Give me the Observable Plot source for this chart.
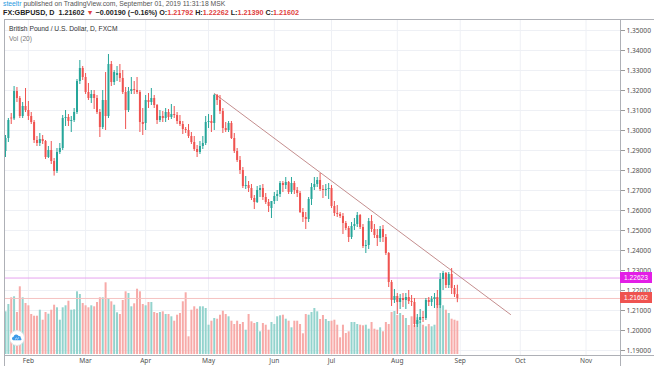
<!DOCTYPE html>
<html><head><meta charset="utf-8">
<script src="https://cdn.jsdelivr.net/npm/d3@7"></script>
<script src="https://cdn.jsdelivr.net/npm/@observablehq/plot@0.6"></script>
<style>
html,body{margin:0;padding:0;background:#fff;}
#root{position:relative;width:654px;height:366px;overflow:hidden;font-family:"Liberation Sans",Arial,sans-serif;background:#fff;}
.layer{position:absolute;left:0;}
.layer svg{display:block;}
.txt{position:absolute;white-space:nowrap;line-height:8px;}
.ln{position:absolute;background:#aeb0b6;}
.box{position:absolute;left:620px;width:32px;height:11px;line-height:11px;color:#fff;font-size:6.6px;text-align:center;}
</style></head><body><div id="root"></div>
<script>
// ---- data (FX:GBPUSD daily) ----
const startDate = "2019-01-22";
const opens = [1.2895,1.2960,1.3062,1.3058,1.3195,1.3160,1.3070,1.3120,1.3100,1.3070,
1.3040,1.2950,1.2935,1.2955,1.2945,1.2865,1.2900,1.2845,1.2795,1.2890,
1.2910,1.3060,1.3065,1.3045,1.3050,1.3090,1.3245,1.3310,1.3265,1.3190,
1.3160,1.3180,1.3160,1.3090,1.3015,1.3150,1.3070,1.3330,1.3240,1.3275,
1.3285,1.3260,1.3190,1.3100,1.3195,1.3205,1.3200,1.3190,1.3040,1.3035,
1.3150,1.3140,1.3160,1.3125,1.3050,1.3070,1.3060,1.3090,1.3065,1.3080,
1.3075,1.3045,1.3030,1.3005,1.3000,1.2970,1.2940,1.2905,1.2890,1.2920,
1.2935,1.3040,1.3045,1.3035,1.3175,1.3150,1.3095,1.3010,1.3000,1.3035,
1.2960,1.2895,1.2850,1.2800,1.2720,1.2725,1.2710,1.2660,1.2640,1.2700,
1.2710,1.2665,1.2640,1.2610,1.2645,1.2670,1.2680,1.2735,1.2725,1.2740,
1.2690,1.2735,1.2700,1.2685,1.2590,1.2565,1.2555,1.2655,1.2715,1.2730,
1.2750,1.2705,1.2700,1.2705,1.2710,1.2620,1.2585,1.2580,1.2570,1.2535,
1.2510,1.2465,1.2520,1.2530,1.2575,1.2515,1.2420,1.2425,1.2545,1.2505,
1.2475,1.2460,1.2505,1.2465,1.2385,1.2240,1.2150,1.2170,1.2140,1.2160,
1.2150,1.2165,1.2145,1.2140,1.2030,1.2050,1.2065,1.2060,1.2150,1.2140,
1.2155,1.2165,1.2125,1.2255,1.2285,1.2225,1.2280,1.2210,1.21792];
const highs = [1.2975,1.3060,1.3085,1.3220,1.3215,1.3170,1.3140,1.3210,1.3145,1.3090,
1.3050,1.2970,1.2985,1.2975,1.2950,1.2920,1.2945,1.2860,1.2910,1.2935,
1.3075,1.3100,1.3080,1.3070,1.3110,1.3255,1.3350,1.3320,1.3285,1.3235,
1.3200,1.3200,1.3175,1.3105,1.3200,1.3290,1.3380,1.3345,1.3300,1.3320,
1.3330,1.3300,1.3215,1.3215,1.3265,1.3245,1.3265,1.3200,1.3110,1.3175,
1.3185,1.3210,1.3175,1.3130,1.3100,1.3095,1.3110,1.3105,1.3130,1.3120,
1.3090,1.3075,1.3045,1.3015,1.3030,1.2990,1.2970,1.2925,1.2945,1.2970,
1.3070,1.3080,1.3075,1.3180,1.3180,1.3175,1.3110,1.3040,1.3045,1.3045,
1.2985,1.2910,1.2870,1.2815,1.2770,1.2745,1.2730,1.2675,1.2720,1.2725,
1.2730,1.2685,1.2655,1.2645,1.2690,1.2700,1.2745,1.2745,1.2765,1.2745,
1.2765,1.2745,1.2715,1.2695,1.2610,1.2590,1.2665,1.2735,1.2765,1.2765,
1.2785,1.2725,1.2730,1.2735,1.2725,1.2645,1.2625,1.2590,1.2585,1.2545,
1.2520,1.2540,1.2560,1.2590,1.2580,1.2530,1.2450,1.2560,1.2575,1.2530,
1.2505,1.2520,1.2525,1.2480,1.2390,1.2250,1.2205,1.2185,1.2180,1.2185,
1.2185,1.2200,1.2175,1.2160,1.2080,1.2105,1.2095,1.2160,1.2165,1.2170,
1.2185,1.2200,1.2285,1.2295,1.2290,1.2290,1.2310,1.2225,1.22262];
const lows = [1.2865,1.2940,1.3030,1.3050,1.3140,1.3060,1.3060,1.3090,1.3050,1.3030,
1.2935,1.2920,1.2920,1.2930,1.2855,1.2860,1.2830,1.2772,1.2785,1.2880,
1.2900,1.3020,1.3020,1.2990,1.3040,1.3080,1.3230,1.3250,1.3180,1.3150,
1.3135,1.3105,1.3080,1.2965,1.3005,1.3000,1.3060,1.3220,1.3225,1.3245,
1.3240,1.3180,1.3005,1.3090,1.3180,1.3180,1.3180,1.2990,1.2975,1.3000,
1.3110,1.3125,1.3110,1.3030,1.3040,1.3040,1.3040,1.3050,1.3055,1.3060,
1.3030,1.3020,1.2980,1.2985,1.2960,1.2930,1.2895,1.2865,1.2880,1.2905,
1.2925,1.3010,1.2990,1.3000,1.3125,1.3080,1.2985,1.2990,1.2990,1.2955,
1.2885,1.2840,1.2780,1.2710,1.2705,1.2690,1.2650,1.2605,1.2635,1.2665,
1.2650,1.2630,1.2590,1.2560,1.2630,1.2645,1.2665,1.2690,1.2705,1.2680,
1.2680,1.2680,1.2665,1.2585,1.2540,1.2505,1.2540,1.2625,1.2700,1.2715,
1.2695,1.2660,1.2670,1.2655,1.2610,1.2570,1.2565,1.2560,1.2480,1.2500,
1.2440,1.2455,1.2500,1.2515,1.2505,1.2410,1.2385,1.2405,1.2490,1.2460,
1.2420,1.2440,1.2440,1.2375,1.2215,1.2120,1.2135,1.2080,1.2105,1.2115,
1.2105,1.2130,1.2120,1.2015,1.2015,1.2035,1.2040,1.2050,1.2120,1.2120,
1.2110,1.2110,1.2110,1.2200,1.2210,1.2210,1.2180,1.2165,1.21390];
const closes = [1.2960,1.3050,1.3058,1.3195,1.3160,1.3070,1.3120,1.3100,1.3070,1.3040,
1.2950,1.2935,1.2955,1.2945,1.2865,1.2900,1.2845,1.2795,1.2890,1.2910,
1.3060,1.3065,1.3045,1.3050,1.3090,1.3245,1.3310,1.3265,1.3190,1.3160,
1.3180,1.3160,1.3090,1.3015,1.3150,1.3070,1.3330,1.3240,1.3290,1.3285,
1.3260,1.3190,1.3100,1.3195,1.3205,1.3200,1.3190,1.3040,1.3030,1.3150,
1.3140,1.3160,1.3125,1.3050,1.3070,1.3060,1.3090,1.3065,1.3080,1.3075,
1.3045,1.3030,1.3005,1.3000,1.2970,1.2940,1.2905,1.2890,1.2920,1.2935,
1.3040,1.3045,1.3035,1.3175,1.3150,1.3095,1.3010,1.3000,1.3035,1.2960,
1.2895,1.2850,1.2800,1.2720,1.2725,1.2710,1.2660,1.2640,1.2700,1.2710,
1.2665,1.2640,1.2620,1.2645,1.2670,1.2680,1.2735,1.2725,1.2740,1.2690,
1.2735,1.2700,1.2685,1.2590,1.2565,1.2555,1.2655,1.2715,1.2730,1.2750,
1.2705,1.2700,1.2705,1.2710,1.2620,1.2585,1.2580,1.2570,1.2535,1.2510,
1.2465,1.2520,1.2530,1.2575,1.2515,1.2420,1.2425,1.2545,1.2505,1.2475,
1.2460,1.2505,1.2465,1.2385,1.2240,1.2150,1.2170,1.2140,1.2160,1.2150,
1.2165,1.2145,1.2140,1.2030,1.2050,1.2065,1.2060,1.2150,1.2140,1.2155,
1.2165,1.2125,1.2255,1.2285,1.2225,1.2280,1.2210,1.21792,1.21602];
const volumes = [42.7,50,56.7,57.7,42,67.7,56.7,51,48.7,40,
38.3,38.3,44.3,34.3,42,40.3,44.3,49.3,46.7,34.3,
46.7,48.7,53.3,44.3,44.7,62.7,60,51,48.7,46.7,
48.7,47.7,52,56.7,56.7,71.7,56,52.7,49.3,41.7,
40,54,62.7,61,47.7,50.7,65.3,62.7,50,48.7,
52,52,42,41,42,42.7,40,40,37.7,33.3,
39.3,41,52.7,61.7,17.7,44.3,47.7,45.3,47.7,47.7,
46,29.3,33.3,36,35.3,39.3,43.3,40,37.7,33.3,
30,33.3,30,32,24.3,40,32.7,31,32,22.7,
31,29.3,24.3,32,30,37.7,38.7,39.3,35.3,33.3,
26.7,33.3,33.3,30,20.7,40,39.3,42,46,42.7,
35,39,35,33,33.3,34.3,29.3,16.7,29.3,21,
22.7,32,32,30,29.3,28.7,29.3,25.3,32,25.3,
24.3,26.7,22.7,32,30,42,43,39,41,39,
36,29,37.7,29,36.7,32.7,29.3,27.7,30,27.7,
29.3,50,62.7,48.7,44.3,41,35.3,34.3,33.3];
const priceTicks = [1.19,1.20,1.21,1.22,1.23,1.24,1.25,1.26,1.27,1.28,1.29,1.30,1.31,1.32,1.33,1.34,1.35];
const monthNames = ["Jan","Feb","Mar","Apr","May","Jun","Jul","Aug","Sep","Oct","Nov","Dec"];
const trendIdx = [73, 176.6];
const trendPrice = [1.3185, 1.2080];
const levelPrice = 1.22623;

// ---- derived ----
const n = closes.length;
const dates = [];
{ let d = new Date(startDate + "T00:00:00Z");
  while (dates.length < 216) { const wd = d.getUTCDay(); if (wd !== 0 && wd !== 6) dates.push(new Date(d)); d.setUTCDate(d.getUTCDate() + 1); } }
const monthIdx = dates.map((d, i) => i).filter(i => i > 0 && dates[i].getUTCMonth() !== dates[i - 1].getUTCMonth());
const bars = closes.map((c, i) => ({i, o: opens[i], h: highs[i], l: lows[i], c, v: volumes[i], up: c >= opens[i]}));
const upBars = bars.filter(d => d.up), dnBars = bars.filter(d => !d.up);
const lastPrice = closes[n - 1];
const trend = trendIdx.map((x, k) => ({x, y: trendPrice[k]}));

const teal = "#26a69a", red = "#ef5350", tealV = "#93d3cd", redV = "#f7aaa8";
const W = 654, H = 347;
const xDomain = [-0.35, 215.05];
const common = {width: W, height: H, marginLeft: 4, marginRight: 34, marginTop: 0, marginBottom: 11,
  x: {type: "linear", domain: xDomain}, y: {domain: [1.1875, 1.3555]},
  style: {background: "transparent", overflow: "visible"}};

const root = document.getElementById("root");
function addLayer(el, top) { const d = document.createElement("div"); d.className = "layer"; d.style.top = top + "px"; d.appendChild(el); root.appendChild(d); }

// grid layer
addLayer(Plot.plot({...common, x: {...common.x, axis: null}, y: {...common.y, axis: null}, marks: [
  Plot.ruleX(monthIdx, {x: d => d, stroke: "#eef0f5"}),
  Plot.ruleY(priceTicks, {stroke: "#eef0f5"})
]}), 19);

// volume layer
addLayer(Plot.plot({width: W, height: 76, marginLeft: 4, marginRight: 34, marginTop: 0, marginBottom: 1,
  x: {type: "linear", domain: xDomain, axis: null}, y: {domain: [0, 75], axis: null},
  style: {background: "transparent"}, marks: [
  Plot.ruleX(upBars, {x: "i", y1: 0, y2: "v", stroke: tealV, strokeWidth: 2}),
  Plot.ruleX(dnBars, {x: "i", y1: 0, y2: "v", stroke: redV, strokeWidth: 2})
]}), 279);

// price layer
const pricePlot = Plot.plot({...common, marks: [
  Plot.ruleY([levelPrice], {stroke: "#e6a3ef", strokeWidth: 1}),
  Plot.ruleY([lastPrice], {stroke: "#f5c2c1", strokeWidth: 1}),
  Plot.line(trend, {x: "x", y: "y", stroke: "#c48e8e", strokeWidth: 1}),
  Plot.ruleX(upBars, {x: "i", y1: "l", y2: "h", stroke: teal, strokeWidth: 1}),
  Plot.ruleX(dnBars, {x: "i", y1: "l", y2: "h", stroke: red, strokeWidth: 1}),
  Plot.ruleX(upBars, {x: "i", y1: "o", y2: "c", stroke: teal, strokeWidth: 2}),
  Plot.ruleX(dnBars, {x: "i", y1: "o", y2: "c", stroke: red, strokeWidth: 2}),
  Plot.axisY(priceTicks, {anchor: "right", tickSize: 4, tickPadding: 2, tickFormat: d => d.toFixed(5), fontSize: 6.6, fill: "#505050", stroke: "#9a9a9a", label: null}),
  Plot.axisX(monthIdx, {anchor: "bottom", tickSize: 0, tickPadding: 3, tickFormat: i => monthNames[dates[i].getUTCMonth()], fontSize: 6.6, fill: "#505050", label: null})
]});
addLayer(pricePlot, 19);
const ys = pricePlot.scale("y");

// frame lines
function line(l, t, w, h) { const d = document.createElement("div"); d.className = "ln"; Object.assign(d.style, {left: l + "px", top: t + "px", width: w + "px", height: h + "px"}); root.appendChild(d); }
line(4, 19, 650, 1); line(4, 19, 1, 347); line(620, 19, 1, 347); line(4, 355, 650, 1);

// price label boxes
function box(v, color) { const d = document.createElement("div"); d.className = "box"; d.style.background = color; d.style.top = (19 + ys.apply(v) - 5.5) + "px"; d.textContent = v.toFixed(5); root.appendChild(d); }
box(levelPrice, "#e31ee6"); box(lastPrice, "#ef5350");

// header texts
const chg = lastPrice - closes[n - 2];
const fmt = v => v.toFixed(5).replace("-", "\u2212");
function txt(html, l, t, size, color, weight) { const d = document.createElement("div"); d.className = "txt"; Object.assign(d.style, {left: l + "px", top: t + "px", fontSize: size + "px", color, fontWeight: weight || "normal"}); d.innerHTML = html; root.appendChild(d); }
txt('<span style="color:#2a9be0">steeltr</span> published on TradingView.com, September 01, 2019 11:31:18 MSK', 3, 0, 6.8, "#555");
const R = s => `<span style="color:#e0403d">${s}</span>`;
txt(`FX:GBPUSD, D&nbsp; ${lastPrice.toFixed(5)} ${R("\u25BC")} ${fmt(chg)} (${(chg / closes[n - 2] * 100).toFixed(2).replace("-", "\u2212")}%) O:${R(opens[n - 1].toFixed(5))} H:${R(highs[n - 1].toFixed(5))} L:${R(lows[n - 1].toFixed(5))} C:${R(lastPrice.toFixed(5))}`, 3, 9, 7.2, "#222", "bold");
txt("British Pound / U.S. Dollar, D, FXCM", 9, 25, 6.7, "#333");
txt("Vol (20)", 9, 35, 6.7, "#777");

// logo
const lg = document.createElement("div");
lg.style.cssText = "position:absolute;left:9px;top:330px;width:16px;height:16px;";
lg.innerHTML = '<svg width="16" height="16" viewBox="0 0 16 16"><circle cx="8" cy="8" r="7.5" fill="#fff" stroke="#e2e4e8"/><path d="M4.2 10.2 a1.8 1.8 0 0 1 0.4-3.5 a2.6 2.6 0 0 1 5-0.6 a2 2 0 0 1 2.3 2.1 a1.1 1.1 0 0 1 0 2 z" fill="#3d9be9"/><path d="M6 9.4 l1.4-1.3 1 0.9 1.6-1.5" stroke="#fff" stroke-width="0.7" fill="none"/></svg>';
root.appendChild(lg);
</script></body></html>
